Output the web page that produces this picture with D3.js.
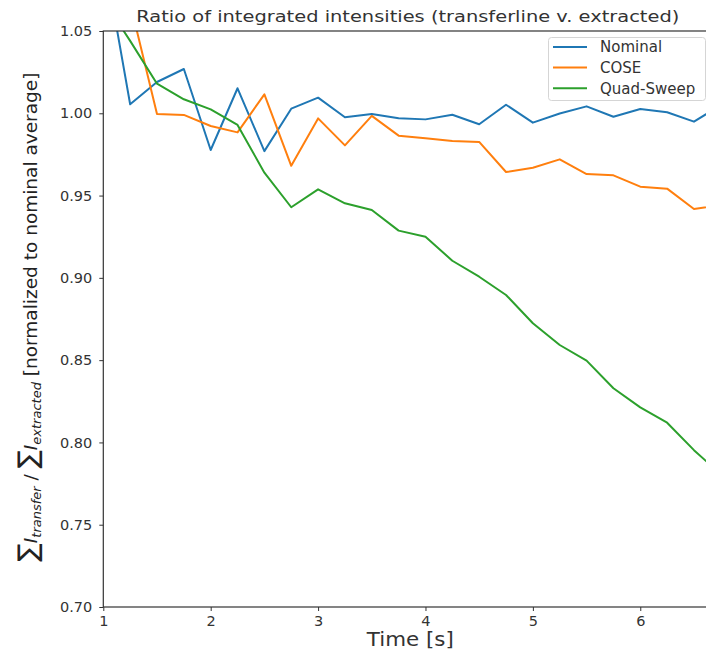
<!DOCTYPE html>
<html>
<head>
<meta charset="utf-8">
<script src="https://cdnjs.cloudflare.com/ajax/libs/d3/7.8.5/d3.min.js"></script>
<style>
  html, body { margin: 0; padding: 0; background: #fff; }
  svg { display: block; font-family: "DejaVu Sans", sans-serif; }
</style>
</head>
<body>
<div id="main-chart"></div>
<script>
var times = [1, 1.25, 1.5, 1.75, 2, 2.25, 2.5, 2.75, 3, 3.25, 3.5, 3.75,
             4, 4.25, 4.5, 4.75, 5, 5.25, 5.5, 5.75, 6, 6.25, 6.5, 6.75];

var nominal = [1.098, 1.0055, 1.019, 1.0269, 0.9777, 1.0152, 0.977, 1.0028,
               1.0095, 0.9976, 0.9995, 0.997, 0.9963, 0.9991, 0.9933, 1.0052,
               0.9943, 0.9999, 1.0042, 0.9979, 1.0026, 1.0006, 0.9949, 1.005];

var cose = [1.10, 1.067, 0.9996, 0.999, 0.9923, 0.9884, 1.0115, 0.9681,
            0.9969, 0.9805, 0.9984, 0.9864, 0.9848, 0.9832, 0.9826, 0.9643,
            0.9669, 0.972, 0.9631, 0.9623, 0.9554, 0.9542, 0.9418, 0.9443];

var quadSweep = [1.069, 1.044, 1.018, 1.0085, 1.0024, 0.9929, 0.9639, 0.9429,
                 0.9538, 0.9453, 0.9412, 0.9287, 0.925, 0.9104, 0.9007, 0.8896,
                 0.8724, 0.8592, 0.8497, 0.8329, 0.8213, 0.812, 0.7953, 0.7806];

var seriesNames = ["Nominal", "COSE", "Quad-Sweep"];
var seriesColors = ["#1f77b4", "#ff7f0e", "#2ca02c"];
var xTicks = [1, 2, 3, 4, 5, 6];
var yTicks = [0.70, 0.75, 0.80, 0.85, 0.90, 0.95, 1.00, 1.05];

var width = 706, height = 651;
var plotL = 103.3, plotR = 713.3, plotT = 31, plotB = 607;
var ink = "#333";

var svg = d3.select("#main-chart")
  .append("svg")
  .attr("width", width)
  .attr("height", height);

var x = d3.scaleLinear().domain([1, 6.68]).range([plotL, plotR]);
var y = d3.scaleLinear().domain([0.70, 1.05]).range([plotB, plotT]);

svg.append("defs").append("clipPath")
  .attr("id", "plot-clip")
  .append("rect")
  .attr("x", plotL).attr("y", plotT)
  .attr("width", plotR - plotL).attr("height", plotB - plotT);

// lines
var line = d3.line()
  .x(function(d) { return x(d[0]); })
  .y(function(d) { return y(d[1]); });

var allSeries = [nominal, cose, quadSweep];
var lines = svg.append("g").attr("clip-path", "url(#plot-clip)");
allSeries.forEach(function(vals, i) {
  lines.append("path")
    .datum(times.map(function(t, j) { return [t, vals[j]]; }))
    .attr("d", line)
    .attr("fill", "none")
    .attr("stroke", seriesColors[i])
    .attr("stroke-width", 2)
    .attr("stroke-linejoin", "round");
});

// axes
var xAxis = svg.append("g")
  .attr("transform", "translate(0," + plotB + ")")
  .call(d3.axisBottom(x).tickValues(xTicks).tickFormat(d3.format("d"))
    .tickSizeInner(4).tickSizeOuter(0).tickPadding(5));

var yAxis = svg.append("g")
  .attr("transform", "translate(" + plotL + ",0)")
  .call(d3.axisLeft(y).tickValues(yTicks).tickFormat(d3.format(".2f"))
    .tickSizeInner(4).tickSizeOuter(0).tickPadding(7));

[xAxis, yAxis].forEach(function(ax) {
  ax.select(".domain").remove();
  ax.selectAll(".tick line").attr("stroke", ink).attr("stroke-width", 1);
  ax.selectAll(".tick text")
    .attr("fill", ink)
    .style("font-family", "DejaVu Sans, sans-serif")
    .style("font-size", "14.5px");
});

// spines
svg.append("rect")
  .attr("x", plotL).attr("y", plotT)
  .attr("width", plotR - plotL).attr("height", plotB - plotT)
  .attr("fill", "none")
  .attr("stroke", ink)
  .attr("stroke-width", 1.2);

// title (text in the reference is a bit wider than DejaVu at its height)
svg.append("text")
  .attr("x", (plotL + plotR) / 2 - 0.5)
  .attr("y", 21.5)
  .attr("text-anchor", "middle")
  .attr("fill", ink)
  .attr("textLength", 543)
  .attr("lengthAdjust", "spacingAndGlyphs")
  .style("font-size", "16.5px")
  .text("Ratio of integrated intensities (transferline v. extracted)");

// x label
svg.append("text")
  .attr("x", (plotL + plotR) / 2 + 2)
  .attr("y", 646)
  .attr("text-anchor", "middle")
  .attr("fill", ink)
  .attr("textLength", 87)
  .attr("lengthAdjust", "spacingAndGlyphs")
  .style("font-size", "19px")
  .text("Time [s]");

// y label with math-like parts
var yl = svg.append("text")
  .attr("transform", "translate(37," + ((plotT + plotB) / 2 - 2) + ") rotate(-90)")
  .attr("text-anchor", "middle")
  .attr("fill", "#222")
  .style("font-size", "18.5px");

yl.append("tspan").style("font-size", "27px").text("\u2211");
yl.append("tspan").style("font-style", "italic").text("I");
yl.append("tspan").style("font-style", "italic").style("font-size", "13px")
  .attr("dy", 4).text("transfer");
yl.append("tspan").attr("dy", -4).text(" / ");
yl.append("tspan").style("font-size", "27px").text("\u2211");
yl.append("tspan").style("font-style", "italic").text("I");
yl.append("tspan").style("font-style", "italic").style("font-size", "13px")
  .attr("dy", 4).text("extracted");
yl.append("tspan").attr("dy", -4).text(" [normalized to nominal average]");

// legend
var legend = svg.append("g");
legend.append("rect")
  .attr("x", 548.5).attr("y", 37.5)
  .attr("width", 157).attr("height", 63)
  .attr("rx", 3)
  .attr("fill", "#fff").attr("fill-opacity", 0.8)
  .attr("stroke", "#d5d5d5");

seriesNames.forEach(function(name, i) {
  var cy = 47 + i * 20.6;
  legend.append("line")
    .attr("x1", 553).attr("x2", 587)
    .attr("y1", cy).attr("y2", cy)
    .attr("stroke", seriesColors[i])
    .attr("stroke-width", 2);
  legend.append("text")
    .attr("x", 600).attr("y", cy)
    .attr("dy", "0.36em")
    .attr("fill", ink)
    .style("font-size", "15px")
    .text(name);
});
</script>
</body>
</html>
